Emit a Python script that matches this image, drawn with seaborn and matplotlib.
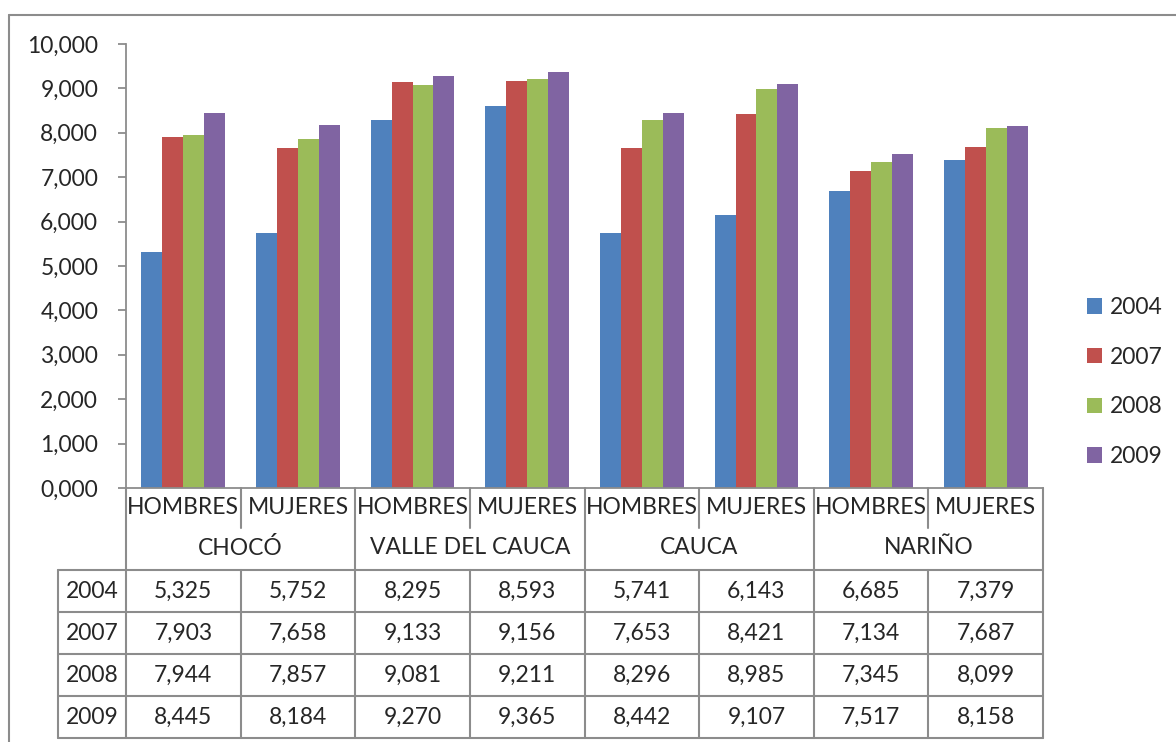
"""Bar chart with data table: values by department and sex, 2004-2009"""

import matplotlib
matplotlib.use("Agg")
import matplotlib.pyplot as plt
import matplotlib.ticker as mticker
from matplotlib.lines import Line2D
from matplotlib.transforms import blended_transform_factory
import pandas as pd
import seaborn as sns

sns.set_theme(style="white")
plt.rcParams["font.family"] = ["Lato", "DejaVu Sans"]

DEPARTMENTS = ["CHOCÓ", "VALLE DEL CAUCA", "CAUCA", "NARIÑO"]
SEXES = ["HOMBRES", "MUJERES"]
YEARS = ["2004", "2007", "2008", "2009"]
COLORS = ["#4F81BD", "#C0504D", "#9BBB59", "#8064A2"]

# one list per year, order: dept x (HOMBRES, MUJERES)
V2004 = [5.325, 5.752, 8.295, 8.593, 5.741, 6.143, 6.685, 7.379]
V2007 = [7.903, 7.658, 9.133, 9.156, 7.653, 8.421, 7.134, 7.687]
V2008 = [7.944, 7.857, 9.081, 9.211, 8.296, 8.985, 7.345, 8.099]
V2009 = [8.445, 8.184, 9.270, 9.365, 8.442, 9.107, 7.517, 8.158]
SERIES = [V2004, V2007, V2008, V2009]

W, H = 1176, 742
GRAY = "#8C8C8C"
FS = 16.5


def fmt(v):
    return f"{v:.3f}".replace(".", ",")


def main():
    cats = [f"{d}|{s}" for d in DEPARTMENTS for s in SEXES]
    rows = []
    for year, vals in zip(YEARS, SERIES):
        for c, v in zip(cats, vals):
            rows.append({"cat": c, "year": year, "value": v})
    df = pd.DataFrame(rows)

    fig = plt.figure(figsize=(W / 100, H / 100), dpi=100)
    ax = fig.add_axes([126 / W, 1 - 488 / H, (1043 - 126) / W, (488 - 44) / H])

    sns.barplot(data=df, x="cat", y="value", hue="year", order=cats,
                hue_order=YEARS, palette=COLORS, saturation=1, width=0.73,
                linewidth=0, ax=ax)
    ax.set_xlim(-0.5, len(cats) - 0.5)
    ax.set_ylim(0, 10)
    ax.set_yticks(range(0, 11))
    ax.yaxis.set_major_formatter(mticker.FuncFormatter(lambda y, _: fmt(y)))
    ax.set_xticks([])
    ax.set_xlabel("")
    ax.set_ylabel("")
    ax.tick_params(axis="y", left=True, length=6, width=1.3, color=GRAY,
                   pad=14, labelsize=FS)
    for side in ("top", "right"):
        ax.spines[side].set_visible(False)
    for side in ("left", "bottom"):
        ax.spines[side].set_color(GRAY)
        ax.spines[side].set_linewidth(1.3)

    handles, labels = ax.get_legend_handles_labels()
    ax.legend_.remove()
    fig.legend(handles, labels, loc="center left",
               bbox_to_anchor=(1066 / W, 1 - 382 / H), frameon=False,
               fontsize=FS, handlelength=0.65, handleheight=0.65,
               handletextpad=0.35, labelspacing=1.25)

    # data table below the axis
    tr = blended_transform_factory(ax.transData, fig.transFigure)
    fy = lambda py: 1 - py / H

    def line(x0, x1, y0, y1):
        fig.add_artist(Line2D([x0, x1], [fy(y0), fy(y1)], transform=tr,
                              color=GRAY, lw=1.5, clip_on=False))

    n = len(cats)
    left_edge = -0.5 - (126 - 58) / ((1043 - 126) / n)
    row_lines = [570, 612, 654, 696, 738]
    line(-0.5, -0.5, 488, 738)
    for i in range(1, n + 1):
        x = i - 0.5
        if i % 2 == 0:
            line(x, x, 488, 738)
        else:
            line(x, x, 488, 528)
            line(x, x, 570, 738)
    for y in row_lines:
        line(left_edge, n - 0.5, y, y)
    line(left_edge, left_edge, 570, 738)

    for i, c in enumerate(cats):
        ax.text(i, fy(508), c.split("|")[1], transform=tr, ha="center",
                va="center", fontsize=FS)
    for j, d in enumerate(DEPARTMENTS):
        ax.text(2 * j + 0.5, fy(548), d, transform=tr, ha="center",
                va="center", fontsize=FS)
    for r, (year, vals) in enumerate(zip(YEARS, SERIES)):
        yc = (row_lines[r] + row_lines[r + 1]) / 2
        ax.text((left_edge - 0.5) / 2, fy(yc), year, transform=tr,
                ha="center", va="center", fontsize=FS)
        for i, v in enumerate(vals):
            ax.text(i, fy(yc), fmt(v), transform=tr, ha="center",
                    va="center", fontsize=FS)

    # chart area border (clipped at right and bottom)
    fig.add_artist(Line2D([9 / W, 9 / W], [0, fy(15)], transform=fig.transFigure,
                          color=GRAY, lw=1.5))
    fig.add_artist(Line2D([9 / W, 1], [fy(15), fy(15)], transform=fig.transFigure,
                          color=GRAY, lw=1.5))

    fig.savefig("out.png", dpi=100)
    plt.close(fig)


if __name__ == "__main__":
    main()
